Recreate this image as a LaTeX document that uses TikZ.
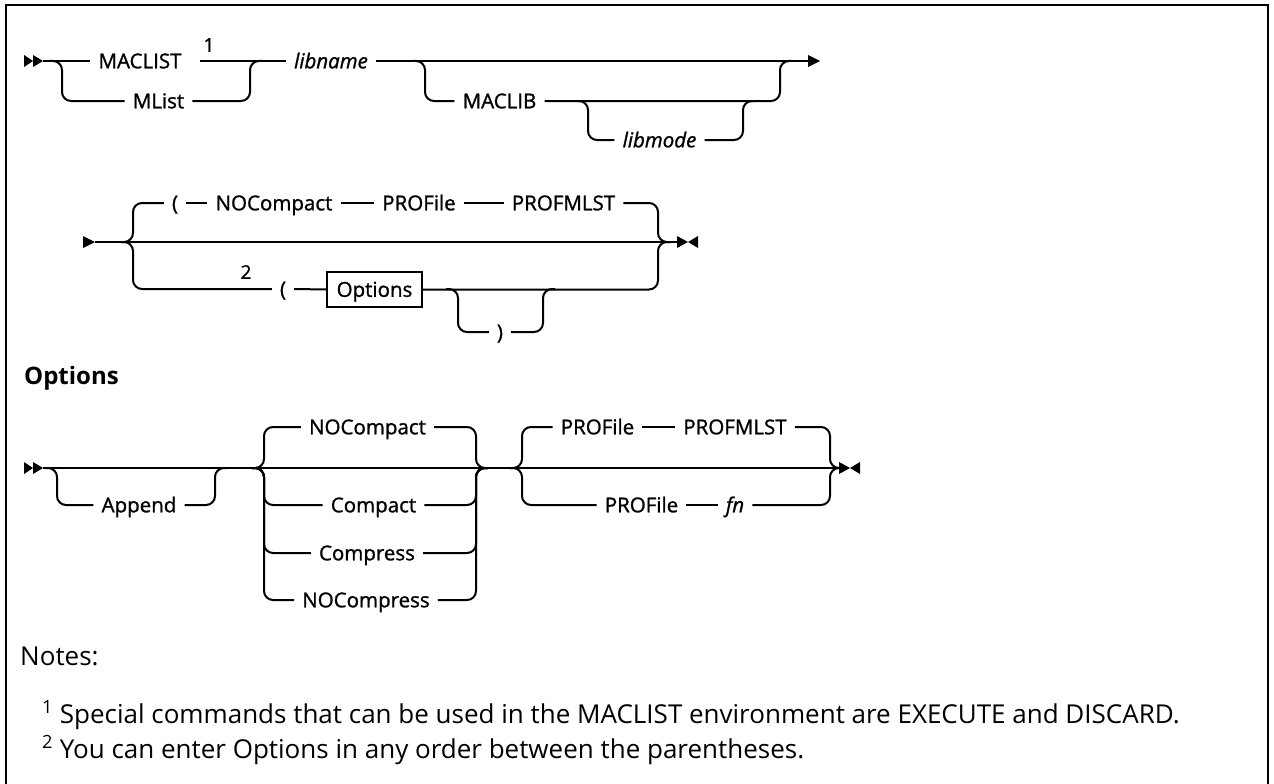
\documentclass[tikz,border=0pt]{standalone}
\usepackage{fontspec}
\setmainfont{Open Sans}
\newfontfamily\lblfam[FakeBold=1.2]{Open Sans}
\newcommand\lblf{\lblfam\fontsize{20.5}{24}\selectfont}
\newcommand\supf{\lblfam\fontsize{19}{22}\selectfont}
\newcommand\notef{\fontsize{26}{30}\selectfont}
\newcommand\headf{\fontsize{24}{28}\selectfont\bfseries}
\begin{document}
\begin{tikzpicture}[x=1pt,y=-1pt,
  rr/.style={line width=2pt, rounded corners=9pt},
  lbl/.style={font=\lblf, inner xsep=8pt, inner ysep=0pt, text height=14.6pt, text depth=0pt, anchor=center},
  itl/.style={lbl, font=\lblf\itshape},
  supn/.style={font=\supf, inner sep=0pt},
  boxn/.style={draw, line width=2pt, font=\lblf, inner xsep=0pt, inner ysep=0pt, text height=14.6pt, text depth=0pt, minimum width=95pt, minimum height=35pt},
  notesty/.style={font=\notef, anchor=base west, inner sep=0pt}
]
\useasboundingbox (0,0) rectangle (1274,784);
\draw[line width=2pt] (6,790) -- (6,5) -- (1268,5) -- (1268,790);

% ---------- Row 1 ----------
\coordinate (r1s) at (43,61);
\fill (r1s) -- ++(-10,-6) -- ++(0,12) -- cycle;
\fill (r1s) ++(-10,0) -- ++(-9,-6) -- ++(0,12) -- cycle;
\node[lbl] (maclist) at (140,61) {MACLIST};
\node[supn] (n1) at (209,45) {1};
\node[lbl] (mlist) at (158.5,101) {MList};
\coordinate (s1) at (62,61);
\coordinate (j1) at (250,61);
\node[itl] (libname) at (331,61) {libname};
\draw[rr] (r1s) -- (maclist.west);
\draw[rr] ([xshift=10pt]maclist.east) -- (libname.west);
\draw[rr] (s1) ++(-12,0) -- (s1) |- (mlist.west);
\draw[rr] (mlist.east) -| (j1) -- ++(12,0);
\coordinate (s2) at (425,61);
\coordinate (j2) at (780,61);
\coordinate (r1e) at (820,61);
\draw[rr] (libname.east) -- ([xshift=-11pt]r1e);
\fill (r1e) -- ++(-12,-6) -- ++(0,12) -- cycle;
\node[lbl] (maclib) at (499.5,101) {MACLIB};
\draw[rr] (s2) ++(-12,0) -- (s2) |- (maclib.west);
\draw[rr] (maclib.east) -| (j2) -- ++(12,0);
\coordinate (s3) at (588,101);
\coordinate (j3) at (743,101);
\node[itl] (libmode) at (659.5,140) {libmode};
\draw[rr] (s3) ++(-12,0) -- (s3) |- (libmode.west);
\draw[rr] (libmode.east) -| (j3) -- ++(12,0);

% ---------- Row 2 ----------
\coordinate (r2s) at (95,242);
\fill (r2s) -- ++(-12,-6) -- ++(0,12) -- cycle;
\coordinate (b1) at (133,242);
\coordinate (r2e) at (688,242);
\fill (r2e) -- ++(-11,-6) -- ++(0,12) -- cycle;
\fill (r2e) -- ++(10,-6) -- ++(0,12) -- cycle;
\draw[rr] (r2s) -- ([xshift=-11pt]r2e);
\node[lbl] (op1) at (175,203) {(};
\node[lbl] (noc) at (274,203) {NOCompact};
\node[lbl] (prof) at (419,203) {PROFile};
\node[lbl] (pml) at (563.5,203) {PROFMLST};
\coordinate (j4) at (658,242);
\draw[rr] (b1) ++(-12,0) -- (b1) |- (op1.west);
\draw[rr] (op1.east) -- (noc.west);
\draw[rr] (noc.east) -- (prof.west);
\draw[rr] (prof.east) -- (pml.west);
\draw[rr] (pml.east) -| (j4) -- ++(12,0);
\node[supn] (n2) at (246,272) {2};
\node[lbl] (op2) at (283,289) {(};
\node[boxn] (opt) at (374.5,289.5) {Options};
\draw[rr] (b1) ++(-12,0) -- (b1) |- (op2.west);
\draw[rr] (op2.east) -- (opt.west);
\draw[rr] (opt.east) -| (j4) -- ++(12,0);
\coordinate (s4) at (458,289);
\coordinate (j5) at (543,289);
\node[lbl] (cl) at (500,332) {)};
\draw[rr] (s4) ++(-12,0) -- (s4) |- (cl.west);
\draw[rr] (cl.east) -| (j5) -- ++(12,0);

% ---------- Options heading ----------
\node[font=\headf, anchor=west, inner sep=0pt] (opth) at (24,378) {Options};

% ---------- Row 3 ----------
\coordinate (r3s) at (43,468);
\fill (r3s) -- ++(-10,-6) -- ++(0,12) -- cycle;
\fill (r3s) ++(-10,0) -- ++(-9,-6) -- ++(0,12) -- cycle;
\coordinate (r3e) at (850,468);
\draw[rr] (r3s) -- ([xshift=-11pt]r3e);
\fill (r3e) -- ++(-11,-6) -- ++(0,12) -- cycle;
\fill (r3e) -- ++(10,-6) -- ++(0,12) -- cycle;
\coordinate (s5) at (57,468);
\coordinate (j6) at (215,468);
\node[lbl] (app) at (139,505) {Append};
\draw[rr] (s5) ++(-12,0) -- (s5) |- (app.west);
\draw[rr] (app.east) -| (j6) -- ++(12,0);
\coordinate (b2) at (264,468);
\coordinate (j7) at (476,468);
\node[lbl] (noc2) at (367.5,427) {NOCompact};
\node[lbl] (cmp) at (373.5,505) {Compact};
\node[lbl] (cps) at (367,553) {Compress};
\node[lbl] (nocps) at (366,600) {NOCompress};
\foreach \n in {noc2,cmp,cps,nocps}{
  \draw[rr] (b2) ++(-12,0) -- (b2) |- (\n.west);
  \draw[rr] (\n.east) -| (j7) -- ++(12,0);
}
\coordinate (b3) at (522,468);
\coordinate (j8) at (830,468);
\node[lbl] (prof2) at (597.5,427) {PROFile};
\node[lbl] (pml2) at (735,427) {PROFMLST};
\node[lbl] (prof3) at (641.5,505) {PROFile};
\node[itl] (fn) at (735,505) {fn};
\draw[rr] (b3) ++(-12,0) -- (b3) |- (prof2.west);
\draw[rr] (prof2.east) -- (pml2.west);
\draw[rr] (pml2.east) -| (j8) -- ++(12,0);
\draw[rr] (b3) ++(-12,0) -- (b3) |- (prof3.west);
\draw[rr] (prof3.east) -- (fn.west);
\draw[rr] (fn.east) -| (j8) -- ++(12,0);

% ---------- Notes ----------
\node[notesty] (notes) at (20,665) {Notes:};
\node[notesty] (f1) at (42,723) {\textsuperscript{1} Special commands that can be used in the MACLIST environment are EXECUTE and DISCARD.};
\node[notesty] (f2) at (42,758) {\textsuperscript{2} You can enter Options in any order between the parentheses.};
\end{tikzpicture}
\end{document}
